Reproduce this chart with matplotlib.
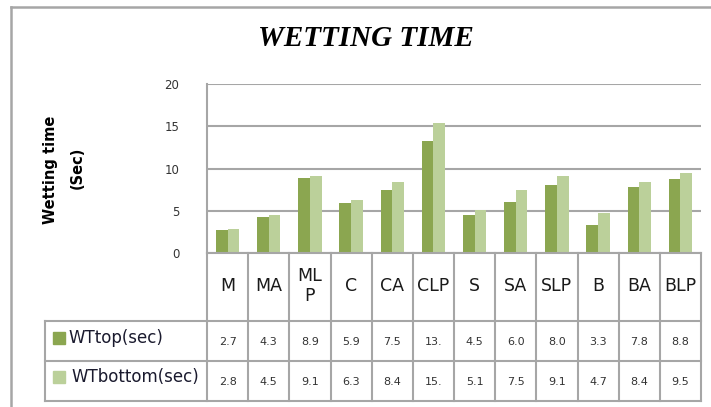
import matplotlib
matplotlib.use("Agg")
import matplotlib.pyplot as plt
from matplotlib.patches import Rectangle
from matplotlib.lines import Line2D

# Sample categories and wetting times (seconds)
categories = ["M", "MA", "ML\nP", "C", "CA", "CLP", "S", "SA", "SLP", "B", "BA", "BLP"]
wt_top = [2.7, 4.3, 8.9, 5.9, 7.5, 13.3, 4.5, 6.0, 8.0, 3.3, 7.8, 8.8]
wt_bottom = [2.8, 4.5, 9.1, 6.3, 8.4, 15.4, 5.1, 7.5, 9.1, 4.7, 8.4, 9.5]
series_names = ["WTtop(sec)", "WTbottom(sec)"]
y_ticks = [0, 5, 10, 15, 20]

DARK = "#8BA650"
LIGHT = "#BBD09A"
GRID = "#A6A6A6"

W, H = 711, 407
fig = plt.figure(figsize=(W / 100, H / 100), dpi=100)


def fx(px):
    return px / W


def fy(py):
    return 1 - py / H


# Outer chart frame (left and top edges)
fig.add_artist(Line2D([fx(11), fx(11)], [fy(7), 0], color=GRID, lw=1.8,
                      transform=fig.transFigure))
fig.add_artist(Line2D([fx(11), 1], [fy(7), fy(7)], color=GRID, lw=1.8,
                      transform=fig.transFigure))

# Plot area
L, R, T, B = 207, 701, 84, 253
ax = fig.add_axes([fx(L), fy(B), fx(R - L), (B - T) / H])
n = len(categories)
x = list(range(n))
bw = 0.285
ax.bar([i - bw / 2 for i in x], wt_top, width=bw, color=DARK, zorder=3)
ax.bar([i + bw / 2 for i in x], wt_bottom, width=bw, color=LIGHT, zorder=3)
ax.set_xlim(-0.5, n - 0.5)
ax.set_ylim(0, 20)
ax.set_yticks(y_ticks)
ax.set_yticklabels([str(t) for t in y_ticks], fontsize=8.5, color="#333333")
ax.tick_params(axis="y", length=0, pad=20)
ax.set_xticks([])
for s in ["top", "right", "bottom"]:
    ax.spines[s].set_visible(False)
ax.spines["left"].set_color(GRID)
ax.spines["left"].set_linewidth(1.5)
ax.grid(axis="y", color=GRID, lw=1.5, zorder=0)
ax.set_axisbelow(True)

# Title and axis label
fig.text(fx(366), fy(38), "WETTING TIME", ha="center", va="center",
         family="Liberation Serif", fontweight="bold", fontstyle="italic",
         fontsize=21)
fig.text(fx(51), fy(170), "Wetting time", rotation=90, ha="center",
         va="center", fontsize=10.5, fontweight="bold")
fig.text(fx(77), fy(168), "(Sec)", rotation=90, ha="center",
         va="center", fontsize=10.5, fontweight="bold")

# Data table under the plot
tab = fig.add_axes([0, 0, 1, 1])
tab.set_xlim(0, W)
tab.set_ylim(H, 0)
tab.axis("off")

col_w = (R - L) / n
cols = [L + i * col_w for i in range(n + 1)]
row_y = [253, 321, 361, 401]
lw_t = 1.5

# vertical lines
for c in cols:
    tab.plot([c, c], [row_y[0], row_y[-1]], color=GRID, lw=lw_t)
tab.plot([45, 45], [row_y[1], row_y[-1]], color=GRID, lw=lw_t)
# horizontal lines
tab.plot([L, R], [row_y[0], row_y[0]], color=GRID, lw=lw_t)
for yy in row_y[1:]:
    tab.plot([45, R], [yy, yy], color=GRID, lw=lw_t)

for i, cat in enumerate(categories):
    cx = (cols[i] + cols[i + 1]) / 2
    tab.text(cx, (row_y[0] + row_y[1]) / 2 - 1, cat, ha="center",
             va="center", fontsize=12.5, color="#1a1a1a", linespacing=1.1)


def cell_text(v):
    # narrow cells only show the first three characters
    return f"{v:.1f}"[:3]


for r, vals in enumerate([wt_top, wt_bottom]):
    cy = (row_y[r + 1] + row_y[r + 2]) / 2
    for i, v in enumerate(vals):
        cx = (cols[i] + cols[i + 1]) / 2
        tab.text(cx, cy + 1, cell_text(v), ha="center", va="center",
                 fontsize=8, color="#333333")

legend_y = [338, 377]
for r, (name, col) in enumerate(zip(series_names, [DARK, LIGHT])):
    cy = legend_y[r]
    tab.add_patch(Rectangle((53, cy - 6), 12, 12, color=col))
    tab.text(68 + 3 * r, cy, name, ha="left", va="center",
             fontsize=12, color="#1a1a2e")

fig.savefig("out.png", dpi=100)
